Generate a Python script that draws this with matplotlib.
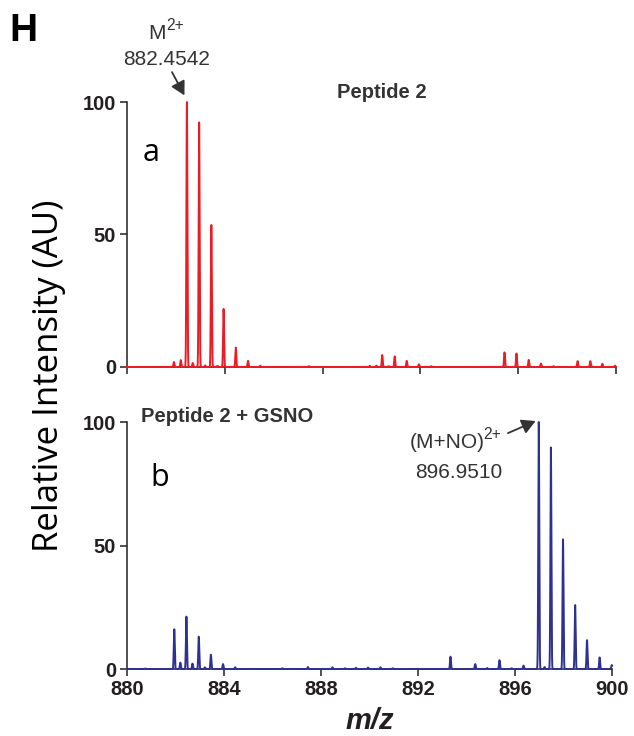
import numpy as np
import matplotlib
matplotlib.use("Agg")
import matplotlib.pyplot as plt
from matplotlib.transforms import offset_copy

plt.rcParams['font.family'] = ['Liberation Sans', 'DejaVu Sans']

# --- data (m/z, relative intensity) ---
mz_a = [881.92, 882.20, 882.45, 882.69, 882.95, 883.20, 883.45, 883.70, 883.95,
        884.45, 884.95, 885.45, 887.45, 889.93, 890.20, 890.44, 890.70, 890.95,
        891.44, 891.94, 892.44, 895.44, 895.93, 896.43, 896.93, 897.45, 898.43,
        898.95, 899.44, 899.96]
int_a = [1.9, 2.6, 100, 1.5, 92.3, 0.6, 53.6, 0.4, 21.9,
         7.3, 2.3, 0.5, 0.3, 0.4, 0.5, 4.5, 0.3, 4.0,
         2.3, 1.0, 0.3, 5.5, 5.1, 2.7, 1.3, 0.3, 2.2,
         2.2, 1.2, 0.5]

mz_b = [880.75, 881.95, 882.20, 882.45, 882.70, 882.96, 883.21, 883.46, 883.96,
        884.46, 886.41, 887.46, 888.47, 888.99, 889.44, 889.94, 890.45, 890.96,
        893.34, 894.36, 894.85, 895.36, 895.86, 896.35, 896.98, 897.22, 897.48,
        897.98, 898.48, 898.97, 899.49, 899.99]
int_b = [0.2, 16.1, 2.6, 21.2, 2.2, 13.1, 0.7, 5.8, 2.0,
         0.7, 0.3, 0.8, 0.7, 0.3, 0.5, 0.6, 0.7, 0.3,
         5.0, 2.0, 0.4, 3.6, 0.3, 1.4, 100, 0.8, 89.7,
         52.5, 25.9, 11.7, 4.7, 1.6]

xticks = [880, 884, 888, 892, 896, 900]
yticks = [0, 50, 100]

RED = '#ED1C24'
BLUE = '#2E3192'
INK = '#231F20'
GREY = '#333333'


def profile(mz, inten, x, sigma=0.02):
    y = np.zeros_like(x)
    for m, h in zip(mz, inten):
        y += h * np.exp(-0.5 * ((x - m) / sigma) ** 2)
    return y


def style_axis(ax, show_xlabels):
    ax.set_xlim(880, 900)
    ax.set_ylim(0, 100)
    for s in ['top', 'right']:
        ax.spines[s].set_visible(False)
    for s in ['left', 'bottom']:
        ax.spines[s].set_color(INK)
        ax.spines[s].set_linewidth(1.1)
    ax.set_xticks(xticks)
    ax.set_yticks(yticks)
    ax.tick_params(direction='out', length=5, width=1.1, colors=INK, pad=3,
                   labelsize=14.5)
    for lab in ax.get_yticklabels() + ax.get_xticklabels():
        lab.set_fontweight('bold')
    if not show_xlabels:
        ax.set_xticklabels([])


def text_sup(ax, xc, y, base, sup, size=15, gap=0.5):
    # base text + raised superscript, centred as a pair on xc
    r = fig.canvas.get_renderer()
    t = ax.text(xc, y, base, ha='left', va='baseline', fontsize=size,
                color=GREY, clip_on=False)
    s = ax.text(xc, y, sup, ha='left', va='baseline', fontsize=size * 0.75,
                color=GREY, clip_on=False)
    wb = t.get_window_extent(r).width
    ws = s.get_window_extent(r).width
    shift = -(wb + ws + gap) / 2
    t.set_transform(offset_copy(ax.transData, fig, x=shift, y=0, units='dots'))
    s.set_transform(offset_copy(ax.transData, fig, x=shift + wb + gap,
                                y=size * 0.45 * 100 / 72, units='dots'))


x = np.linspace(880, 900, 8001)

fig = plt.figure(figsize=(6.34, 7.36), dpi=100)
ax1 = fig.add_axes([0.2003, 0.5014, 0.7713, 0.3600])
ax2 = fig.add_axes([0.2003, 0.0910, 0.7650, 0.3356])

ax1.plot(x, profile(mz_a, int_a, x), color=RED, lw=1.4, clip_on=False, zorder=3)
ax2.plot(x, profile(mz_b, int_b, x), color=BLUE, lw=1.4, clip_on=False, zorder=3)

style_axis(ax1, False)
style_axis(ax2, True)

ax2.set_xlabel('m/z', fontsize=21, fontweight='bold', style='italic',
               color=INK, labelpad=6)

# panel texts
ax1.text(890.41, 101.4, 'Peptide 2', ha='center', va='baseline', fontsize=14.5,
         fontweight='bold', color=GREY, clip_on=False)
ax2.text(880.57, 100.1, 'Peptide 2 + GSNO', ha='left', va='baseline',
         fontsize=14.5, fontweight='bold', color=GREY, clip_on=False)
ax1.text(880.62, 77.7, 'a', ha='left', va='baseline', fontsize=22,
         family='Open Sans', color='black')
ax2.text(880.98, 74.1, 'b', ha='left', va='baseline', fontsize=22,
         family='Open Sans', color='black')

# peak annotations
text_sup(ax1, 881.6, 123.8, 'M', '2+')
ax1.text(881.6, 114.0, '882.4542', ha='center', va='baseline',
         fontsize=15, color=GREY, clip_on=False)
ax1.annotate('', xy=(882.35, 102.5), xytext=(881.84, 111.3),
             arrowprops=dict(arrowstyle='-|>,head_length=0.55,head_width=0.3',
                             color=GREY, lw=1.3, mutation_scale=15,
                             shrinkA=0, shrinkB=0),
             annotation_clip=False)

text_sup(ax2, 893.55, 89.5, '(M+NO)', '2+', gap=-1.5)
ax2.text(893.7, 77.3, '896.9510', ha='center', va='baseline',
         fontsize=15, color=GREY, clip_on=False)
ax2.annotate('', xy=(896.85, 100.4), xytext=(895.71, 95.5),
             arrowprops=dict(arrowstyle='-|>,head_length=0.55,head_width=0.3',
                             color=GREY, lw=1.3, mutation_scale=15,
                             shrinkA=0, shrinkB=0),
             annotation_clip=False)

fig.text(49 / 634, 1 - 376 / 736, 'Relative Intensity (AU)', rotation=90,
         ha='center', va='center', fontsize=25, family='Open Sans', color='black')
fig.text(9 / 634, 1 - 40.7 / 736, 'H', ha='left', va='baseline', fontsize=28,
         fontweight='bold', color='black')

fig.savefig('out.png', dpi=100)
